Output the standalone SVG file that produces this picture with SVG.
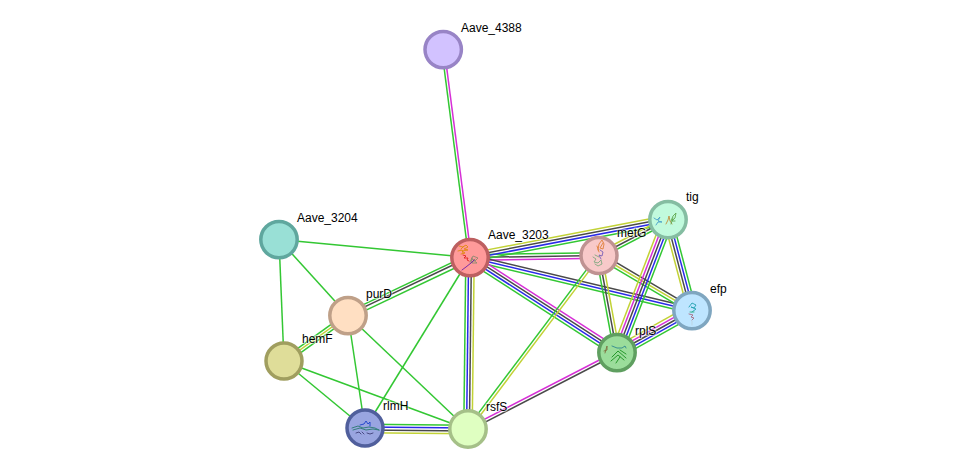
<svg xmlns="http://www.w3.org/2000/svg" width="975" height="474" viewBox="0 0 975 474">
  <style>
    line { fill: none; stroke-width: 1.5; }
    .g { stroke: #33c733; }
    .k { stroke: #4a4a4a; }
    .b { stroke: #2a2ae8; }
    .m { stroke: #d62fd6; }
    .y { stroke: #c2d236; }
    circle { stroke-width: 3.5; }
    text { font-family: "Liberation Sans", Arial, sans-serif; font-size: 12px; fill: #000; stroke: #fff; stroke-width: 2px; stroke-opacity: .5; paint-order: stroke; }
    .fold { fill: none; stroke-width: .9; stroke-linecap: round; stroke-linejoin: round; }
  </style>
  <rect width="975" height="474" fill="#fff"/>

  <g id="connectors" transform="translate(0 .5)">
    <g transform="translate(443 49) rotate(82.6)"><line class="g" x2="209.7" y1="1.3" y2="1.3"/><line class="m" x2="209.7" y1="-1.3" y2="-1.3"/></g>
    <line class="g" x1="279" y1="239" x2="470" y2="257"/>
    <line class="g" x1="279" y1="239" x2="348" y2="315"/>
    <line class="g" x1="279" y1="239" x2="284" y2="361"/>
    <line class="g" x1="470" y1="257" x2="365" y2="428"/>
    <line class="g" x1="348" y1="315" x2="365" y2="428"/>
    <line class="g" x1="348" y1="315" x2="468" y2="429"/>
    <line class="g" x1="284" y1="361" x2="365" y2="428"/>
    <line class="g" x1="284" y1="361" x2="468" y2="429"/>
    <g transform="translate(470 257) rotate(-0.9)"><line class="g" x2="129" y1="-2.8" y2="-2.8"/><line class="k" x2="129" y1="0" y2="0"/><line class="m" x2="129" y1="2.8" y2="2.8"/></g>
    <g transform="translate(470 257) rotate(-10.86)"><line class="y" x2="201.6" y1="-4.2" y2="-4.2"/><line class="k" x2="201.6" y1="-1.4" y2="-1.4"/><line class="b" x2="201.6" y1="1.4" y2="1.4"/><line class="g" x2="201.6" y1="4.2" y2="4.2"/></g>
    <g transform="translate(470 257) rotate(13.43)"><line class="k" x2="228.2" y1="-2.8" y2="-2.8"/><line class="b" x2="228.2" y1="0" y2="0"/><line class="g" x2="228.2" y1="2.8" y2="2.8"/></g>
    <g transform="translate(470 257) rotate(32.87)"><line class="m" x2="175" y1="-4.2" y2="-4.2"/><line class="k" x2="175" y1="-1.4" y2="-1.4"/><line class="b" x2="175" y1="1.4" y2="1.4"/><line class="g" x2="175" y1="4.2" y2="4.2"/></g>
    <g transform="translate(470 257) rotate(90.67)"><line class="g" x2="172" y1="4.2" y2="4.2"/><line class="b" x2="172" y1="1.4" y2="1.4"/><line class="k" x2="172" y1="-1.4" y2="-1.4"/><line class="y" x2="172" y1="-4.2" y2="-4.2"/></g>
    <g transform="translate(470 257) rotate(154.6)"><line class="g" x2="135.1" y1="3.2" y2="3.2"/><line class="k" x2="135.1" y1="0.6" y2="0.6"/><line class="g" x2="135.1" y1="-3" y2="-3"/></g>
    <g transform="translate(348 315) rotate(144.3)"><line class="g" x2="78.8" y1="2.6" y2="2.6"/><line class="y" x2="78.8" y1="0" y2="0"/><line class="g" x2="78.8" y1="-2.6" y2="-2.6"/></g>
    <g transform="translate(365 428) rotate(0.56)"><line class="g" x2="103" y1="-4.2" y2="-4.2"/><line class="b" x2="103" y1="-1.4" y2="-1.4"/><line class="k" x2="103" y1="1.4" y2="1.4"/><line class="y" x2="103" y1="4.2" y2="4.2"/></g>
    <g transform="translate(599 255) rotate(127)"><line class="g" x2="217.8" y1="1.4" y2="1.4"/><line class="y" x2="217.8" y1="-1.4" y2="-1.4"/></g>
    <g transform="translate(617 352) rotate(152.7)"><line class="m" x2="167.7" y1="1.4" y2="1.4"/><line class="k" x2="167.7" y1="-1.4" y2="-1.4"/></g>
    <g transform="translate(599 255) rotate(-27.55)"><line class="y" x2="77.8" y1="-2.8" y2="-2.8"/><line class="k" x2="77.8" y1="0" y2="0"/><line class="g" x2="77.8" y1="2.8" y2="2.8"/></g>
    <g transform="translate(599 255) rotate(30.6)"><line class="k" x2="108" y1="-2.8" y2="-2.8"/><line class="y" x2="108" y1="0" y2="0"/><line class="g" x2="108" y1="2.8" y2="2.8"/></g>
    <g transform="translate(599 255) rotate(79.5)"><line class="g" x2="98.7" y1="2.8" y2="2.8"/><line class="k" x2="98.7" y1="0" y2="0"/><line class="y" x2="98.7" y1="-2.8" y2="-2.8"/></g>
    <g transform="translate(668 219) rotate(75.2)"><line class="y" x2="94.1" y1="4.2" y2="4.2"/><line class="k" x2="94.1" y1="1.4" y2="1.4"/><line class="b" x2="94.1" y1="-1.4" y2="-1.4"/><line class="g" x2="94.1" y1="-4.2" y2="-4.2"/></g>
    <g transform="translate(668 219) rotate(111)"><line class="y" x2="142.4" y1="5.6" y2="5.6"/><line class="m" x2="142.4" y1="2.8" y2="2.8"/><line class="k" x2="142.4" y1="0" y2="0"/><line class="b" x2="142.4" y1="-2.8" y2="-2.8"/><line class="g" x2="142.4" y1="-5.6" y2="-5.6"/></g>
    <g transform="translate(692 310) rotate(150.75)"><line class="y" x2="86" y1="5.6" y2="5.6"/><line class="m" x2="86" y1="2.8" y2="2.8"/><line class="k" x2="86" y1="0" y2="0"/><line class="b" x2="86" y1="-2.8" y2="-2.8"/><line class="g" x2="86" y1="-5.6" y2="-5.6"/></g>
  </g>

  <g id="Aave_4388">
    <circle cx="443.2" cy="49.6" r="18.2" fill="#d2c2ff" stroke="#9884c6"/>
    <text x="461" y="32">Aave_4388</text>
  </g>
  <g id="Aave_3204">
    <circle cx="279" cy="239.6" r="18.2" fill="#99e0d6" stroke="#5fa79e"/>
    <text x="297" y="222">Aave_3204</text>
  </g>
  <g id="Aave_3203">
    <circle cx="470" cy="257.6" r="18.2" fill="#ff9a9a" stroke="#bd5f60"/>
    <path class="fold" stroke="#e08a10" d="M459 246l4 1 3-2 2 2-4 2 4 1-6 1 3 2-4 1M461 249l3-3M458 251l4-1 1 3"/>
    <path class="fold" stroke="#e02020" d="M463 255l3 1-2 2 4 0-1 2 2 1"/>
    <path class="fold" stroke="#8f8870" stroke-width="1.2" d="M470 262l3-6 5 2-3 3-4-3 6 5-5 0 3-4M472 258l-1 5"/>
    <path class="fold" stroke="#6a1fa8" stroke-width="1.4" d="M462 270l4-3 5-4 3-3"/>
    <text x="488" y="239">Aave_3203</text>
  </g>
  <g id="metG">
    <circle cx="599" cy="255.6" r="18" fill="#f8c9c9" stroke="#bf9292"/>
    <path class="fold" stroke="#e0803a" stroke-width="1.1" d="M598 250l1-6 3-4 2 4-1 5-3-1 3-5M597 246l2 6"/>
    <path class="fold" stroke="#7a60b8" stroke-width="1.1" d="M600 250l3 2-1 4-3-1 2 4"/>
    <path class="fold" stroke="#80a880" d="M593 257l3 2-2 3 4 1 3-3 1 4-4 2-3-2M595 255l4 2"/>
    <text x="617" y="237">metG</text>
  </g>
  <g id="tig">
    <circle cx="668" cy="219.6" r="18.2" fill="#c1fadd" stroke="#85bda2"/>
    <path class="fold" stroke="#4aa0c8" stroke-width="1.1" d="M654 218l3 2 3-3-2 4 4 1-4 0-2 3"/>
    <path class="fold" stroke="#c09040" stroke-width="1.1" d="M666 224l2-4 1-4 1 5 2 3"/>
    <path class="fold" stroke="#60a850" stroke-width="1.1" d="M671 221l2-5 3-3-1 5-3 3 3 0M673 218l-2 6"/>
    <text x="686" y="201">tig</text>
  </g>
  <g id="efp">
    <circle cx="692" cy="310.6" r="18.2" fill="#bee5ff" stroke="#7fa6c0"/>
    <path class="fold" stroke="#20a0b0" stroke-width="1.3" d="M689 307l3-4 4 2-2 3-3-1 5 2-4 3"/>
    <path class="fold" stroke="#30b080" d="M690 312l4 0"/>
    <path class="fold" stroke="#a86a80" stroke-width="1.1" d="M689 314l4 1-2 2 3 1-2 2"/>
    <path class="fold" stroke="#bcd2e0" d="M692 321l0 4"/>
    <text x="710" y="293">efp</text>
  </g>
  <g id="rplS">
    <circle cx="617" cy="352.6" r="18.2" fill="#9bdd9b" stroke="#5f9f60"/>
    <path class="fold" stroke="#18901f" stroke-width="1.2" d="M611 361l7-6 6 5M612 357l6-6 8 7M616 363l4-6M620 350l6 4"/>
    <path class="fold" stroke="#807040" d="M604 351l3-1 0-4-2 7"/>
    <path class="fold" stroke="#308890" stroke-width="1.1" d="M612 346l5 2 5 0 3-2 1 2"/>
    <text x="635" y="335">rplS</text>
  </g>
  <g id="purD">
    <circle cx="348" cy="315.6" r="18.2" fill="#ffdfc2" stroke="#bfa088"/>
    <text x="366" y="298">purD</text>
  </g>
  <g id="hemF">
    <circle cx="284" cy="361" r="18" fill="#dfdd99" stroke="#a09e5f"/>
    <text x="302" y="343">hemF</text>
  </g>
  <g id="rlmH">
    <circle cx="365" cy="428" r="18" fill="#99a5e0" stroke="#505f9c"/>
    <path class="fold" stroke="#1a40c8" stroke-width="1.4" d="M360 425l4-1 2-3 2 3 2-2 0 4"/>
    <path class="fold" stroke="#2a7a70" stroke-width="1.1" d="M352 428l6-2 5 2 6-1 6 1 4 2M353 430l7-2 6 2 7-1 6 1"/>
    <path class="fold" stroke="#404078" stroke-width="1.1" d="M356 433l3-1 2 2M362 432l2 2M367 433l3 1 3-1"/>
    <text x="383" y="410">rlmH</text>
  </g>
  <g id="rsfS">
    <circle cx="468" cy="429" r="18.2" fill="#dfffc1" stroke="#a5c088"/>
    <text x="486" y="411">rsfS</text>
  </g>
</svg>
